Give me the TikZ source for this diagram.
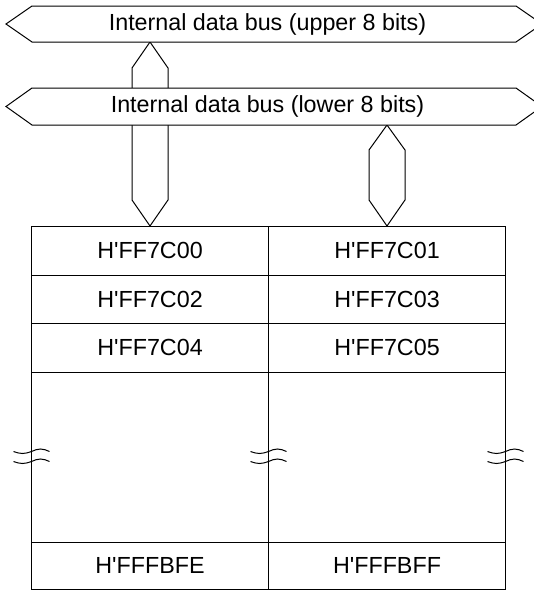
\documentclass[tikz,border=0pt]{standalone}
\usepackage{fontspec}
\setmainfont{Liberation Sans}
\usepackage{tikz}
\usetikzlibrary{calc, matrix, positioning}
\tikzstyle{bus}=[draw, fill=white, line join=miter]
\tikzstyle{label}=[inner sep=0pt]
\tikzstyle{cell}=[rectangle, draw, minimum width=237, minimum height=48.5, inner sep=0pt]
\newcommand{\hx}{H\textquotesingle}

\begin{document}
\begin{tikzpicture}[x=1pt, y=-1pt]

\tikzset{every node/.style={font=\fontsize{23.3pt}{28pt}\selectfont}}
\tikzset{every path/.style={line width=1pt}}

\useasboundingbox (0,0) rectangle (534,590);

% Vertical buses (drawn first, the lower bus covers the left one)
\path[bus] (150,42) -- (168,68) -- (168,200) -- (150,226) -- (132,200) -- (132,68) -- cycle;
\path[bus] (387,125) -- (405,150) -- (405,200) -- (387,226) -- (369,200) -- (369,150) -- cycle;

% Internal data buses
\path[bus] (6,24) -- (32,6) -- (516,6) -- (542,24) -- (516,42) -- (32,42) -- cycle;
\path[bus] (6,106.5) -- (32,88) -- (516,88) -- (542,106.5) -- (516,125) -- (32,125) -- cycle;
\node[label] (upper) at (267.5,24) {Internal data bus (upper 8 bits)};
\node[label] (lower) at (267.5,106.5) {Internal data bus (lower 8 bits)};

% Memory
\matrix (mem) [
    matrix of nodes,
    nodes in empty cells,
    column sep=-1pt,
    row sep=-1pt,
    nodes={cell},
    inner sep=0pt,
    outer sep=0pt,
    anchor=north west,
] at (31,226)
{
    \hx FF7C00 & \hx FF7C01 \\
    \hx FF7C02 & \hx FF7C03 \\
    \hx FF7C04 & \hx FF7C05 \\
    |[minimum height=170]| & |[minimum height=170]| \\
    |[minimum height=47.5]| \hx FFFBFE & |[minimum height=47.5]| \hx FFFBFF \\
};

% Break marks
\foreach \b in {mem-4-1.west, mem-4-1.east, mem-4-2.east} {
    \draw ($(\b)+(-18,-5.5)$) sin ++(9,2) cos ++(9,-2) sin ++(9,-2.5) cos ++(9,2.5);
    \draw ($(\b)+(-18,4.5)$) sin ++(9,2) cos ++(9,-2) sin ++(9,-2.5) cos ++(9,2.5);
}

\end{tikzpicture}
\end{document}
